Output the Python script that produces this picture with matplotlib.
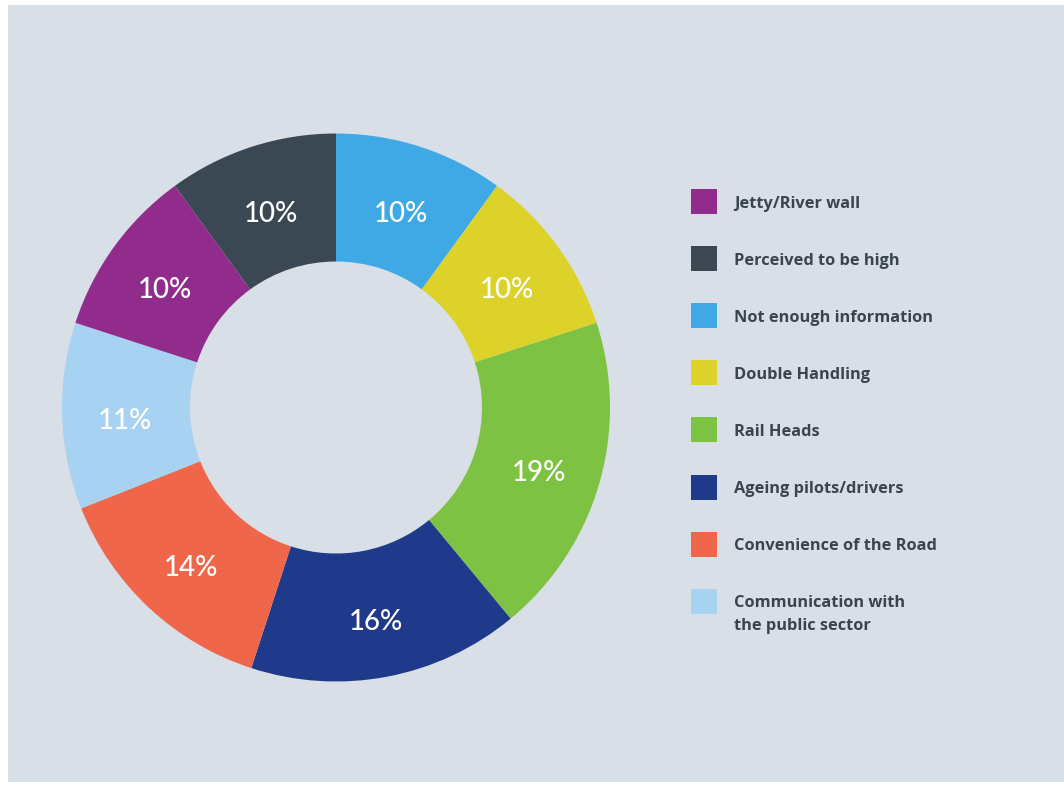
import matplotlib
matplotlib.use("Agg")
import matplotlib.pyplot as plt
from matplotlib.patches import Rectangle

# ---- data (clockwise from 12 o'clock) ----
pie_categories = ["Not enough information", "Double Handling", "Rail Heads",
                  "Ageing pilots/drivers", "Convenience of the Road",
                  "Communication with\nthe public sector", "Jetty/River wall",
                  "Perceived to be high"]
pie_values = [10, 10, 19, 16, 14, 11, 10, 10]
pie_colors = ["#3fa9e6", "#dcd22a", "#7dc242", "#1f3a8a",
              "#f0664a", "#a8d2f2", "#912c8c", "#3b4853"]

legend_order = ["Jetty/River wall", "Perceived to be high", "Not enough information",
                "Double Handling", "Rail Heads", "Ageing pilots/drivers",
                "Convenience of the Road", "Communication with\nthe public sector"]

W, H = 1064, 788
BG = "#d9dfe6"
TEXT = "#3a4450"

fig = plt.figure(figsize=(W / 100, H / 100), dpi=100, facecolor="white")
ax = fig.add_axes([0, 0, 1, 1])

def py(y):  # pixel-from-top -> data y
    return H - y

# background panel
ax.add_patch(Rectangle((8, py(782)), W - 8, 782 - 5, facecolor=BG, edgecolor="none", zorder=0))

cx, cy, R = 336, 407.5, 274
ring = 128
wedges, _, autotexts = ax.pie(
    pie_values, colors=pie_colors, startangle=90, counterclock=False,
    center=(cx, py(cy)), radius=R, frame=True,
    wedgeprops=dict(width=ring, edgecolor="none"),
    autopct=lambda p: f"{round(p):d}%", pctdistance=211 / R,
    textprops=dict(color="white", fontsize=20, fontweight="medium",
                   family=["Lato", "DejaVu Sans"]))
for t in autotexts:
    x, y = t.get_position()
    t.set_position((x, y - 7))
    t.set_va("center")
ax.set_xlim(0, W)
ax.set_ylim(0, H)
ax.axis("off")

# legend
leg_x = 691
leg_y0 = 201.5
leg_dy = 57.1
sq = 25
for i, lab in enumerate(legend_order):
    yc = leg_y0 + i * leg_dy
    col = pie_colors[pie_categories.index(lab)]
    ax.add_patch(Rectangle((leg_x, py(yc + sq / 2)), sq + 1, sq, facecolor=col,
                           edgecolor="none", zorder=3))
    for j, line in enumerate(lab.split("\n")):
        ax.text(734, py(yc + j * 22.5), line, color=TEXT, fontsize=11.8,
                fontweight="bold", family=["Open Sans", "DejaVu Sans"],
                ha="left", va="center_baseline", zorder=3)

fig.savefig("out.png", dpi=100, facecolor="white")
